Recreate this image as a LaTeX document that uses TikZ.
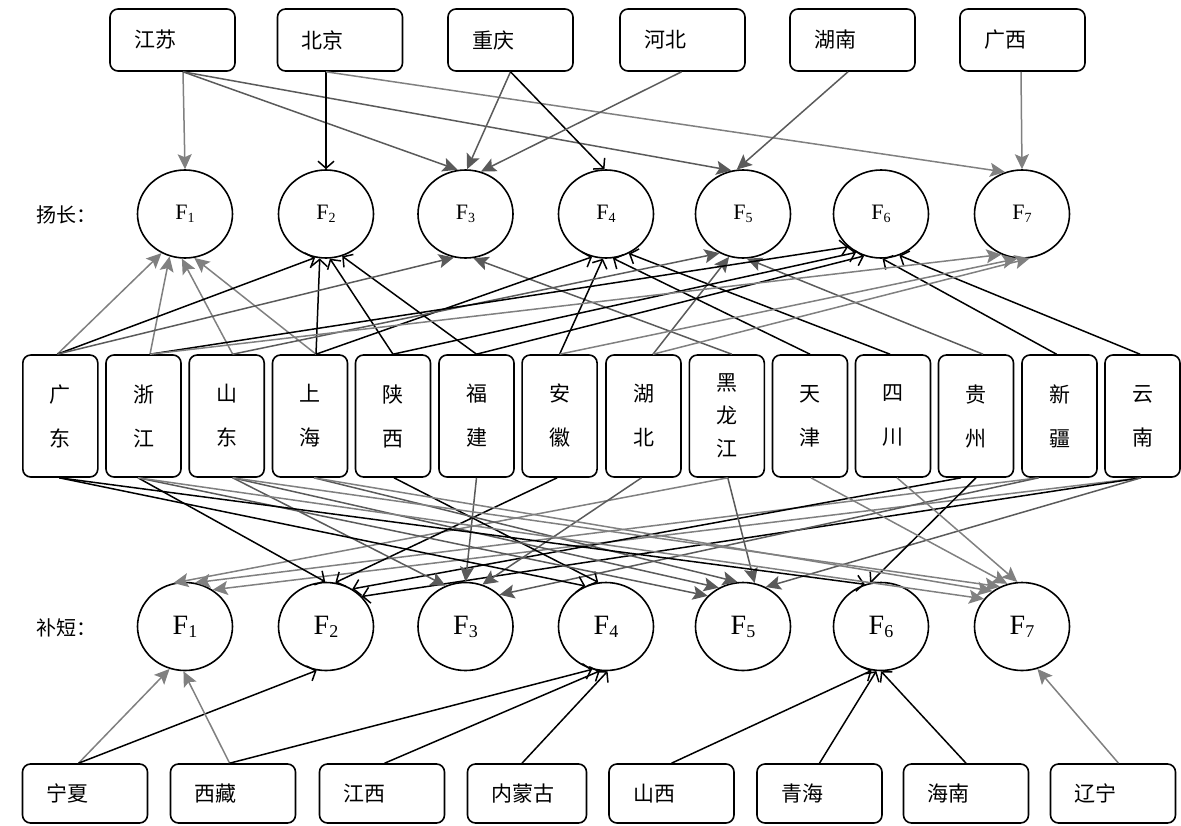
\documentclass[tikz,border=0pt]{standalone}
\usepackage{fontspec}
\setmainfont{Liberation Serif}
\newfontfamily\cjk{Noto Sans CJK SC}
\usetikzlibrary{arrows.meta,shapes.geometric,calc}
\definecolor{lg}{HTML}{808080}
\definecolor{dg}{HTML}{5A5A5A}
\newcommand\fsubt[1]{F\raisebox{-2.5pt}{\fontsize{14}{14}\selectfont #1}}
\newcommand\fsubb[1]{F\raisebox{-3pt}{\fontsize{18}{18}\selectfont #1}}
\begin{document}
\begin{tikzpicture}[x=1pt,y=-1pt,
 every node/.style={inner sep=0pt},
 tbox/.style={draw,line width=1.6pt,rounded corners=8pt,minimum width=125pt,minimum height=62pt,text width=77pt,inner xsep=24pt,align=left,font=\cjk\fontsize{21}{21}\selectfont},
 bbox/.style={tbox,minimum height=59pt},
 mbox/.style={draw,line width=1.6pt,rounded corners=8pt,minimum width=75pt,minimum height=122pt,align=center,font=\cjk\fontsize{21}{44}\selectfont},
 fct/.style={draw,ellipse,line width=1.6pt,minimum width=95pt,minimum height=88pt,font=\fontsize{22}{22}\selectfont},
 fcb/.style={fct,font=\fontsize{28}{28}\selectfont},
 lab/.style={font=\cjk\fontsize{20}{20}\selectfont},
 ba/.style={black,line width=1.5pt,-{Straight Barb[length=7pt,width=16pt]}},
 la/.style={lg,line width=1.5pt,-{Stealth[length=15pt,width=14pt,inset=3pt]}},
 da/.style={dg,line width=1.5pt,-{Stealth[length=15pt,width=14pt,inset=3pt]}}]
\useasboundingbox (0,0) rectangle (1181,825);
% top boxes
\node[tbox] (js) at (172.5,40) {江苏};
\node[tbox] (bj) at (340,40) {北京};
\node[tbox] (cq) at (510.5,40) {重庆};
\node[tbox] (hb) at (682.5,40) {河北};
\node[tbox] (hn) at (852.5,40) {湖南};
\node[tbox] (gx) at (1022.5,40) {广西};
% labels
\node[lab] (ly) at (66,215) {扬长：};
\node[lab] (lb) at (66,628) {补短：};
% circles
\foreach \i/\x in {1/185,2/326,3/465.5,4/606,5/743,6/881,7/1022}{
  \node[fct] (t\i) at (\x,214) {\fsubt{\i}};
  \node[fcb] (b\i) at (\x,626.5) {\fsubb{\i}};
}
% middle boxes
\node[mbox] (gd) at (60.3,416) {广\\东};
\node[mbox] (zj) at (143.5,416) {浙\\江};
\node[mbox] (sd) at (226.7,416) {山\\东};
\node[mbox] (sh) at (310,416) {上\\海};
\node[mbox] (sx) at (393,416) {陕\\西};
\node[mbox] (fj) at (476.5,416) {福\\建};
\node[mbox] (ah) at (559.6,416) {安\\徽};
\node[mbox] (hub) at (643.5,416) {湖\\北};
\node[mbox,font=\cjk\fontsize{21}{33}\selectfont] (hlj) at (726.8,416) {黑\\龙\\江};
\node[mbox] (tj) at (810,416) {天\\津};
\node[mbox] (sc) at (893,416) {四\\川};
\node[mbox] (gz) at (976,416) {贵\\州};
\node[mbox] (xj) at (1059.5,416) {新\\疆};
\node[mbox] (yn) at (1142.5,416) {云\\南};
% bottom boxes
\node[bbox] (nx) at (85,793.5) {宁夏};
\node[bbox] (xz) at (233,793.5) {西藏};
\node[bbox] (jx) at (382,793.5) {江西};
\node[bbox,minimum width=119pt,text width=71pt] (nmg) at (527,793.5) {内蒙古};
\node[bbox] (shx) at (671.5,793.5) {山西};
\node[bbox] (qh) at (819.5,793.5) {青海};
\node[bbox] (hain) at (966,793.5) {海南};
\node[bbox] (ln) at (1113,793.5) {辽宁};
% start points
\coordinate (jsS) at ([xshift=10.5pt]js.south);
\coordinate (bjS) at ([xshift=-14pt]bj.south);
\coordinate (cqS) at (cq.south);
\coordinate (hbS) at ([xshift=-1pt]hb.south);
\coordinate (hnS) at ([xshift=-4.5pt]hn.south);
\coordinate (gxS) at ([xshift=-1.5pt]gx.south);
\foreach \n/\a/\b in {gd/-3/-1,zj/6.5/-5.5,sd/6/6,sh/6/4,sx/0/1,fj/0/0,ah/0/-2.5,hub/9.5/-2,hlj/5/1,tj/0/1,sc/-3/4,gz/7/-15,xj/-3/-21,yn/-2.5/-1.5}{
  \coordinate (\n T) at ([xshift=\a pt]\n.north);
  \coordinate (\n B) at ([xshift=\b pt]\n.south);
}
% top boxes -> top circles
\draw[la] (jsS) -- (t1.north);
\draw[da] (jsS) -- (t3.100);
\draw[da] (jsS) -- (t5.105);
\draw[ba] (bjS) -- (t2.north);
\draw[la] (bjS) -- (t7.112);
\draw[da] (cqS) -- (t3.88);
\draw[ba] (cqS) -- (t4.92);
\draw[da] (hbS) -- (t3.70);
\draw[da] (hnS) -- (t5.98);
\draw[la] (gxS) -- (t7.north);
% middle -> top circles
\draw[la] (gdT) -- (t1.239);
\draw[la] (zjT) -- (t1.250);
\draw[la] (sdT) -- (t1.266);
\draw[la] (shT) -- (t1.282);
\draw[ba] (gdT) -- (t2.256);
\draw[ba] (shT) -- (t2.262);
\draw[ba] (sxT) -- (t2.275);
\draw[ba] (fjT) -- (t2.291);
\draw[da] (gdT) -- (t3.255);
\draw[da] (hljT) -- (t3.280);
\draw[ba] (shT) -- (t4.252);
\draw[ba] (ahT) -- (t4.266);
\draw[ba] (tjT) -- (t4.279);
\draw[ba] (scT) -- (t4.300);
\draw[da] (sdT) -- (t5.239);
\draw[da] (hubT) -- (t5.252);
\draw[da] (gzT) -- (t5.275);
\draw[ba] (zjT) -- (t6.225);
\draw[ba] (sxT) -- (t6.237);
\draw[ba] (fjT) -- (t6.248);
\draw[ba] (xjT) -- (t6.272);
\draw[ba] (ynT) -- (t6.294);
\draw[la] (zjT) -- (t7.243);
\draw[la] (ahT) -- (t7.264);
\draw[la] (hubT) -- (t7.280);
% middle -> bottom circles
\draw[la] (hljB) -- (b1.105);
\draw[la] (xjB) -- (b1.77);
\draw[la] (ynB) -- (b1.53);
\draw[ba] (zjB) -- (b2.91);
\draw[ba] (ahB) -- (b2.78);
\draw[ba] (gzB) -- (b2.55);
\draw[ba] (ynB) -- (b2.40);
\draw[da] (sdB) -- (b3.116);
\draw[da] (fjB) -- (b3.90);
\draw[da] (hubB) -- (b3.68);
\draw[da] (xjB) -- (b3.43);
\draw[ba] (gdB) -- (b4.117);
\draw[ba] (sxB) -- (b4.100);
\draw[da] (zjB) -- (b5.139);
\draw[da] (sdB) -- (b5.122);
\draw[da] (shB) -- (b5.97);
\draw[da] (hljB) -- (b5.75);
\draw[da] (ynB) -- (b5.60);
\draw[ba] (gdB) -- (b6.111);
\draw[ba] (gz.south) -- (b6.104);
\draw[la] (zjB) -- (b7.144);
\draw[la] (shB) -- (b7.130);
\draw[la] (sdB) -- (b7.119);
\draw[la] (tjB) -- (b7.109);
\draw[la] (scB) -- (b7.96);
% bottom boxes -> bottom circles
\draw[la] ([xshift=-6.5pt]nx.north) -- (b1.250);
\draw[ba] ([xshift=-6.5pt]nx.north) -- (b2.258);
\draw[la] ([xshift=-3.4pt]xz.north) -- (b1.268);
\draw[ba] ([xshift=-3.4pt]xz.north) -- (b4.252);
\draw[ba] ([xshift=2.6pt]jx.north) -- (b4.262);
\draw[ba] ([xshift=-5pt]nmg.north) -- (b4.272);
\draw[ba] (shx.north) -- (b6.258);
\draw[ba] (qh.north) -- (b6.264);
\draw[ba] (hain.north) -- (b6.270);
\draw[la] ([xshift=5.5pt]ln.north) -- (b7.290);
\end{tikzpicture}
\end{document}
